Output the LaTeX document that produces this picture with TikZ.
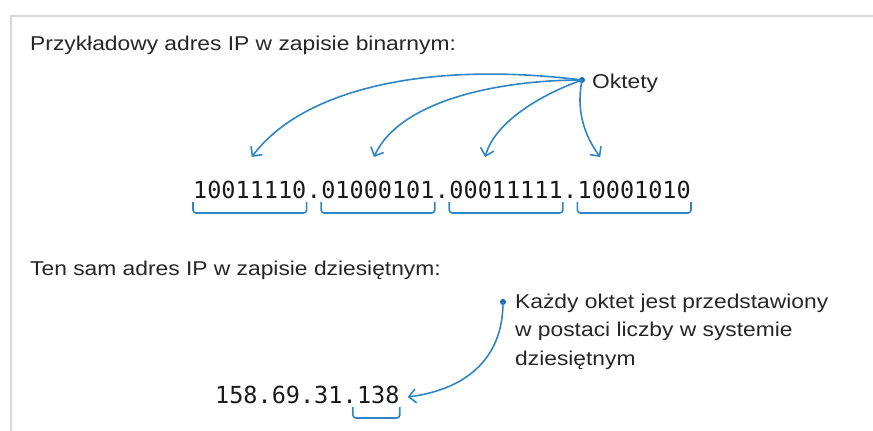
\documentclass[tikz,border=0pt]{standalone}
\usepackage{fontspec}
\setmainfont{Liberation Sans}[FakeStretch=1.14]
\newfontfamily\monof{DejaVu Sans Mono}
\usetikzlibrary{arrows.meta,calc}
\definecolor{ipblue}{RGB}{48,134,196}
\definecolor{dotblue}{RGB}{20,105,180}
\definecolor{framegray}{RGB}{215,215,215}
\tikzset{
  lbl/.style={inner sep=0pt, anchor=base west, font=\fontsize{20}{28.5}\selectfont, text=black!85},
  mono/.style={inner sep=0pt, anchor=base west, font=\monof\fontsize{23.5}{26}\selectfont, text=black!90},
  conn/.style={draw=ipblue, line width=1.6pt, -{Straight Barb[length=7pt,width=14pt]}},
  brace/.style={draw=ipblue, line width=1.6pt, rounded corners=3pt},
  blob/.style={circle, fill=dotblue, inner sep=0pt, minimum size=6pt},
}
\begin{document}
\begin{tikzpicture}[x=1pt,y=-1pt]
\useasboundingbox (0,0) rectangle (873,431);
\draw[framegray, line width=1.5pt] (873,16) -- (11,16) -- (11,431);

\node[lbl] (t1) at (30,50) {Przykładowy adres IP w zapisie binarnym:};
\node[blob] (dA) at (582,80) {};
\node[lbl] (okt) at (592,88) {Oktety};

\node[mono] (o1) at (193,198) {10011110};
\node[mono] (p1) at (o1.base east) {.};
\node[mono] (o2) at (p1.base east) {01000101};
\node[mono] (p2) at (o2.base east) {.};
\node[mono] (o3) at (p2.base east) {00011111};
\node[mono] (p3) at (o3.base east) {.};
\node[mono] (o4) at (p3.base east) {10001010};

\foreach \o in {o1,o2,o3,o4}{
  \draw[brace] ($(\o.base west)+(0,4)$) -- ($(\o.base west)+(0,15)$) -- ($(\o.base east)+(0,15)$) -- ($(\o.base east)+(0,4)$);
}

\draw[conn] (dA.center) .. controls (420,60) and (300,92) .. ($(o1.base)+(2,-41)$);
\draw[conn] (dA.center) .. controls (500,80) and (400,100) .. ($(o2.base)+(-4,-41)$);
\draw[conn] (dA.center) .. controls (540,95) and (495,122) .. ($(o3.base)+(-21,-41)$);
\draw[conn] (dA.center) .. controls (576,110) and (584,135) .. ($(o4.base)+(-34,-41)$);

\node[lbl] (t2) at (30,275) {Ten sam adres IP w zapisie dziesiętnym:};
\node[blob] (dB) at (503,302) {};
\node[lbl, align=left] (k) at (515,365) {Każdy oktet jest przedstawiony\\w postaci liczby w systemie\\dziesiętnym};

\node[mono] (dec) at (215,403) {158.69.31.};
\node[mono] (d4) at (dec.base east) {138};
\draw[brace] ($(d4.base west)+(-4,4)$) -- ($(d4.base west)+(-4,15)$) -- ($(d4.base east)+(0,15)$) -- ($(d4.base east)+(0,4)$);
\draw[conn] (dB.center) .. controls (503,362) and (462,390) .. ($(d4.base east)+(8,-6)$);
\end{tikzpicture}
\end{document}
